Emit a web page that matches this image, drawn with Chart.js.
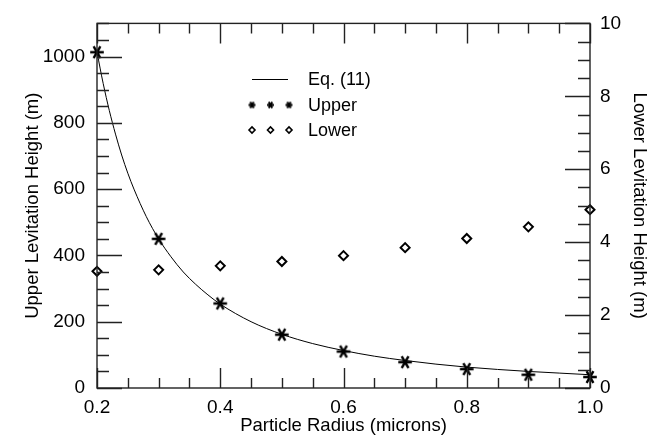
<!DOCTYPE html>
<html>
<head>
<meta charset="utf-8">
<script src="https://cdn.jsdelivr.net/npm/chart.js"></script>
<style>
  html, body { margin: 0; padding: 0; background: #fff; }
  #wrap { width: 666px; height: 443px; }
</style>
</head>
<body>
<div id="wrap"><canvas id="levChart"></canvas></div>
<script>
    // particle radius (microns) for the measured points
    const radius = [0.2, 0.3, 0.4, 0.5, 0.6, 0.7, 0.8, 0.9, 1.0];
    // upper levitation height (m), left axis
    const upperHeight = [1013, 450, 255, 161, 110, 78, 57, 40, 33];
    // lower levitation height (m), right axis
    const lowerHeight = [3.2, 3.24, 3.35, 3.47, 3.63, 3.85, 4.1, 4.42, 4.89];
    // Eq. (11) curve
    const eqRadius = [0.2, 0.21, 0.22, 0.23, 0.24, 0.25, 0.26, 0.28, 0.30, 0.32, 0.34, 0.36, 0.38, 0.40,
        0.45, 0.50, 0.55, 0.60, 0.65, 0.70, 0.75, 0.80, 0.85, 0.90, 0.95, 1.00];
    const eqHeight = [1013, 919, 837, 766, 703, 648, 600, 517, 450, 396, 350, 313, 281, 253,
        200, 162, 134, 113, 96, 83, 72, 63, 56, 50, 45, 40];

    const legendItems = ['Eq. (11)', 'Upper', 'Lower'];
    const FONT = '"Liberation Sans", Arial, Helvetica, sans-serif';

    // six-armed asterisk marker
    function makeStar(size, lw) {
        const c = document.createElement('canvas');
        c.width = size; c.height = size;
        const g = c.getContext('2d');
        const r = size / 2 - lw / 2;
        g.strokeStyle = '#000';
        g.lineWidth = lw;
        g.lineCap = 'butt';
        g.beginPath();
        for (let k = 0; k < 3; k++) {
            const ang = k * Math.PI / 3;
            g.moveTo(size / 2 - r * Math.cos(ang), size / 2 - r * Math.sin(ang));
            g.lineTo(size / 2 + r * Math.cos(ang), size / 2 + r * Math.sin(ang));
        }
        g.stroke();
        return c;
    }
    const bigStar = makeStar(16, 2.4);
    const smallStar = makeStar(9, 2);

    // inward tick marks + frame, like the original plot
    const frameTicks = {
        id: 'frameTicks',
        afterDatasetsDraw(chart) {
            const { ctx, chartArea: a, scales } = chart;
            ctx.save();
            ctx.strokeStyle = '#222';
            ctx.lineWidth = 1.4;
            ctx.beginPath();
            // x: minor every 0.05, major every 0.2, bottom and top
            for (let i = 0; i <= 16; i++) {
                const px = Math.round(scales.x.getPixelForValue(0.2 + i * 0.05)) + 0.5;
                const len = i % 4 === 0 ? 20 : 10;
                ctx.moveTo(px, a.bottom); ctx.lineTo(px, a.bottom - len);
                ctx.moveTo(px, a.top); ctx.lineTo(px, a.top + len);
            }
            // left: minor every 50, major every 200
            for (let v = 0; v <= 1100; v += 50) {
                const py = Math.round(scales.y.getPixelForValue(v)) + 0.5;
                const len = v % 200 === 0 ? 25 : 12;
                ctx.moveTo(a.left, py); ctx.lineTo(a.left + len, py);
            }
            // right: minor every 0.5, major every 2
            for (let v = 0; v <= 10; v += 0.5) {
                const py = Math.round(scales.y1.getPixelForValue(v)) + 0.5;
                const len = v % 2 === 0 ? 25 : 12;
                ctx.moveTo(a.right, py); ctx.lineTo(a.right - len, py);
            }
            ctx.stroke();
            ctx.strokeRect(a.left, a.top, a.right - a.left, a.bottom - a.top);
            ctx.restore();
        }
    };

    const legendPlugin = {
        id: 'legendPlugin',
        afterDraw(chart) {
            const ctx = chart.ctx;
            const lx = 252, tx = 308, rows = [79, 105, 130];
            ctx.save();
            ctx.fillStyle = '#000';
            ctx.font = '18px ' + FONT;
            ctx.textBaseline = 'middle';
            ctx.textAlign = 'left';
            legendItems.forEach((t, i) => ctx.fillText(t, tx, rows[i] + 1));
            ctx.strokeStyle = '#000';
            ctx.lineWidth = 1;
            ctx.beginPath();
            ctx.moveTo(lx, rows[0] + 0.5); ctx.lineTo(lx + 36, rows[0] + 0.5);
            ctx.stroke();
            for (let k = 0; k < 3; k++) {
                const mx = lx + k * 18.5;
                ctx.drawImage(smallStar, mx - 4.5, rows[1] - 4.5);
                ctx.lineWidth = 1.6;
                ctx.fillStyle = '#fff';
                Chart.helpers.drawPoint(ctx, { pointStyle: 'rectRot', radius: 3, rotation: 0, borderWidth: 1.6 }, mx, rows[2]);
            }
            ctx.restore();
        }
    };

    const ctx = document.getElementById('levChart').getContext('2d');
    const levChart = new Chart(ctx, {
        type: 'scatter',
        data: {
            datasets: [{
                label: legendItems[0],
                type: 'line',
                data: eqRadius.map((r, i) => ({ x: r, y: eqHeight[i] })),
                yAxisID: 'y',
                borderColor: '#000',
                borderWidth: 1,
                pointRadius: 0,
                cubicInterpolationMode: 'monotone',
                fill: false
            }, {
                label: legendItems[1],
                data: radius.map((r, i) => ({ x: r, y: upperHeight[i] })),
                yAxisID: 'y',
                pointStyle: bigStar,
                pointRadius: 8,
                borderColor: '#000',
                backgroundColor: '#000',
                clip: false
            }, {
                label: legendItems[2],
                data: radius.map((r, i) => ({ x: r, y: lowerHeight[i] })),
                yAxisID: 'y1',
                pointStyle: 'rectRot',
                pointRadius: 4.5,
                borderColor: '#000',
                borderWidth: 2,
                backgroundColor: '#fff',
                clip: false
            }]
        },
        options: {
            responsive: true,
            maintainAspectRatio: false,
            animation: false,
            layout: { padding: { top: 12, left: 0, right: 0, bottom: 0 } },
            plugins: {
                legend: { display: false },
                tooltip: { enabled: false }
            },
            scales: {
                x: {
                    type: 'linear',
                    min: 0.2, max: 1.0,
                    afterFit: (s) => { s.height = 55; },
                    grid: { display: false, drawTicks: false },
                    border: { display: false },
                    ticks: {
                        stepSize: 0.2,
                        padding: 8,
                        color: '#000',
                        font: { family: FONT, size: 19 },
                        callback: (v) => v.toFixed(1)
                    },
                    title: {
                        display: true,
                        text: 'Particle Radius (microns)',
                        color: '#000',
                        font: { family: FONT, size: 18.5 },
                        padding: { top: 0, bottom: 6 }
                    }
                },
                y: {
                    position: 'left',
                    min: 0, max: 1100,
                    afterFit: (s) => { s.width = 97; },
                    grid: { display: false, drawTicks: false },
                    border: { display: false },
                    ticks: {
                        stepSize: 200,
                        includeBounds: false,
                        padding: 12,
                        color: '#000',
                        font: { family: FONT, size: 19 },
                        callback: (v) => String(v)
                    },
                    title: {
                        display: true,
                        text: 'Upper Levitation Height (m)',
                        color: '#000',
                        font: { family: FONT, size: 18.5 },
                        padding: { top: 22, bottom: 0 }
                    }
                },
                y1: {
                    position: 'right',
                    min: 0, max: 10,
                    afterFit: (s) => { s.width = 76; },
                    grid: { display: false, drawTicks: false },
                    border: { display: false },
                    ticks: {
                        stepSize: 2,
                        padding: 10,
                        color: '#000',
                        font: { family: FONT, size: 19 },
                        callback: (v) => String(v)
                    },
                    title: {
                        display: true,
                        text: 'Lower Levitation Height (m)',
                        color: '#000',
                        font: { family: FONT, size: 18.5 },
                        padding: { top: 16, bottom: 0 }
                    }
                }
            }
        },
        plugins: [frameTicks, legendPlugin]
    });
</script>
</body>
</html>
